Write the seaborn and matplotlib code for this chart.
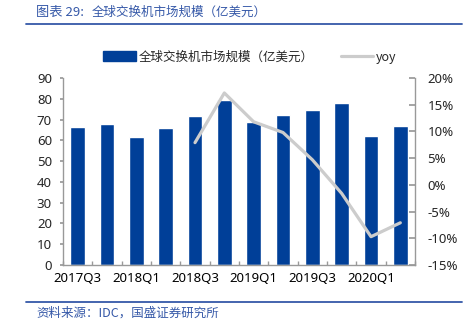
import numpy as np
import pandas as pd
import matplotlib
matplotlib.use("Agg")
import matplotlib.pyplot as plt
from matplotlib.ticker import FuncFormatter, FixedLocator
from matplotlib.lines import Line2D
from matplotlib.patches import Patch
import seaborn as sns

quarters = ["2017Q3", "2017Q4", "2018Q1", "2018Q2", "2018Q3", "2018Q4",
            "2019Q1", "2019Q2", "2019Q3", "2019Q4", "2020Q1", "2020Q2"]
market = [66.3, 68.0, 61.7, 65.8, 71.5, 79.5, 68.9, 72.1, 74.6, 78.1, 62.3, 66.8]
yoy = [np.nan, np.nan, np.nan, np.nan, 7.9, 17.2, 11.8, 9.8, 4.7, -1.6, -9.7, -7.1]
shown_labels = ["2017Q3", "2018Q1", "2018Q3", "2019Q1", "2019Q3", "2020Q1"]
bar_name = "全球交换机市场规模（亿美元）"
line_name = "yoy"
title_num = "图表 29:"
title_text = "全球交换机市场规模（亿美元）"
source = "资料来源：IDC，国盛证券研究所"

sns.set_theme(style="white")
plt.rcParams['font.family'] = ['Noto Sans', 'Noto Sans CJK SC']
cjk = ['Noto Sans CJK SC', 'DejaVu Sans']

BLUE = "#003f98"
GREY = "#cccccc"
SPINE = "#999999"
TITLE_BLUE = "#3558a8"

df = pd.DataFrame({"quarter": quarters, "market": market, "yoy": yoy})
df["pos"] = np.arange(len(df))

fig = plt.figure(figsize=(4.71, 3.26), dpi=100)
ax = fig.add_axes([63 / 471, 1 - 265 / 326, (415 - 63) / 471, (265 - 78) / 326])

sns.barplot(data=df, x="quarter", y="market", color=BLUE, width=0.49,
            saturation=1, ax=ax, order=quarters)
ax.set_xlim(-0.5, len(quarters) - 0.5)
ax.set_ylim(0, 90)
ax.set_yticks(np.arange(0, 91, 10))
ax.set_xlabel("")
ax.set_ylabel("")
ax.set_xticks(np.arange(len(quarters)))
ax.set_xticklabels([q if q in shown_labels else "" for q in quarters])
ax.xaxis.set_minor_locator(FixedLocator(np.arange(len(quarters) + 1) - 0.5))
ax.tick_params(axis="x", which="major", length=0, pad=5, labelsize=9.5, colors="black")
ax.tick_params(axis="x", which="minor", length=3, direction="in", color=SPINE, bottom=True)
ax.tick_params(axis="y", which="major", length=2, direction="out", color=SPINE,
               labelsize=9.5, pad=6, left=True)

ax2 = ax.twinx()
sns.lineplot(data=df, x="pos", y="yoy", color=GREY, linewidth=2.3, ax=ax2)
ax2.set_ylim(-15, 20)
ax2.set_yticks(np.arange(-15, 21, 5))
ax2.yaxis.set_major_formatter(FuncFormatter(lambda v, p: f"{int(round(v))}%"))
ax2.set_ylabel("")
ax2.set_xlabel("")
ax2.set_xlim(-0.5, len(quarters) - 0.5)
ax2.tick_params(axis="y", length=4, direction="in", color=SPINE, labelsize=9.5, pad=9, right=True)

for a in (ax, ax2):
    a.spines["top"].set_visible(False)
    for s in ("left", "right", "bottom"):
        a.spines[s].set_color(SPINE)
        a.spines[s].set_linewidth(1.0)
ax.spines["right"].set_visible(False)
ax2.spines["left"].set_visible(False)
ax2.spines["bottom"].set_visible(False)
ax.grid(False)
ax2.grid(False)

handles = [Patch(facecolor=BLUE, edgecolor=BLUE),
           Line2D([0], [0], color=GREY, linewidth=2.3)]
leg = fig.legend(handles, [bar_name, line_name], loc="center left", ncol=2,
                 bbox_to_anchor=(92 / 471, 1 - 57 / 326), frameon=False,
                 handlelength=2.6, handleheight=0.9, columnspacing=2.2,
                 handletextpad=0.2, prop={"family": cjk, "size": 9})

fig.text(36 / 471, 1 - 12 / 326, title_num, color=TITLE_BLUE, fontsize=9.5,
         family=cjk, style="italic", va="center", ha="left")
fig.text(92 / 471, 1 - 12 / 326, title_text, color=TITLE_BLUE, fontsize=9,
         family=cjk, style="italic", va="center", ha="left")
fig.add_artist(Line2D([26 / 471, 462 / 471], [1 - 24 / 326, 1 - 24 / 326],
                      color=TITLE_BLUE, linewidth=1.3))
fig.add_artist(Line2D([26 / 471, 462 / 471], [1 - 302 / 326, 1 - 302 / 326],
                      color=TITLE_BLUE, linewidth=1.3))
fig.text(36 / 471, 1 - 313 / 326, source, color=TITLE_BLUE, fontsize=9,
         family=cjk, style="italic", va="center", ha="left")

fig.savefig("out.png", dpi=100)
